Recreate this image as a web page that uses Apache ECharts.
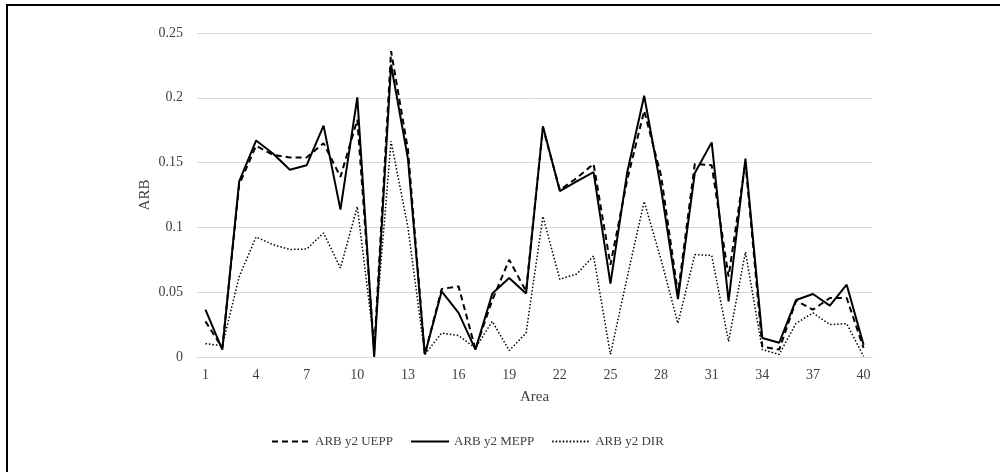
<!DOCTYPE html>
<html>
<head>
<meta charset="utf-8">
<script src="https://cdn.jsdelivr.net/npm/echarts@6/dist/echarts.min.js"></script>
<style>
html,body{margin:0;padding:0;background:#fff;}
#frame{position:absolute;left:6px;top:4px;width:994px;height:468px;border-top:2px solid #000;border-left:2px solid #000;box-sizing:border-box;}
#chart{position:absolute;left:0;top:0;width:1000px;height:472px;}
</style>
</head>
<body>
<div id="frame"></div>
<div id="chart"></div>
<script>
const areas = Array.from({length: 40}, (_, i) => String(i + 1));
const seriesNames = ['ARB y2 UEPP', 'ARB y2 MEPP', 'ARB y2 DIR'];
const uepp = [0.0275,0.007,0.133,0.163,0.156,0.154,0.154,0.165,0.139,0.183,
              0.005,0.236,0.16,0.002,0.0525,0.0545,0.006,0.044,0.075,0.0507,
              0.1767,0.129,0.138,0.149,0.0712,0.137,0.19,0.14,0.049,0.149,
              0.148,0.062,0.15,0.008,0.0057,0.0435,0.0365,0.0455,0.0455,0.007];
const mepp = [0.0365,0.0057,0.1355,0.167,0.157,0.1445,0.148,0.1785,0.1137,0.2003,
              0.0,0.2255,0.153,0.002,0.0507,0.034,0.0057,0.049,0.061,0.049,
              0.178,0.128,0.1355,0.1427,0.0566,0.143,0.2016,0.13,0.0447,0.142,
              0.1656,0.043,0.153,0.0147,0.011,0.044,0.0486,0.0396,0.0558,0.0095];
const dir  = [0.0103,0.0087,0.062,0.0926,0.0867,0.083,0.0833,0.0957,0.0687,0.116,
              0.01,0.1664,0.1,0.002,0.0185,0.0165,0.007,0.0275,0.005,0.0185,
              0.1085,0.06,0.064,0.078,0.002,0.062,0.12,0.075,0.026,0.079,
              0.0784,0.012,0.081,0.0057,0.002,0.026,0.034,0.025,0.0257,0.0005];

const font = '"Liberation Serif", "Times New Roman", serif';
const chart = echarts.init(document.getElementById('chart'), null, {renderer: 'canvas'});
chart.setOption({
  animation: false,
  backgroundColor: 'transparent',
  textStyle: {fontFamily: font},
  grid: {left: 197, right: 128, top: 33, bottom: 115, containLabel: false},
  legend: {
    left: 266, top: 430,
    itemWidth: 38, itemHeight: 12, itemGap: 17,
    itemStyle: {opacity: 0, borderWidth: 0},
    textStyle: {fontFamily: font, fontSize: 13, color: '#404040'},
    data: seriesNames
  },
  xAxis: {
    type: 'category', data: areas, boundaryGap: true,
    name: 'Area', nameLocation: 'middle', nameGap: 33,
    nameTextStyle: {fontFamily: font, fontSize: 15, color: '#404040'},
    axisLine: {show: true, lineStyle: {color: '#d9d9d9', width: 1}},
    axisTick: {show: false},
    axisLabel: {interval: 2, fontFamily: font, fontSize: 14, color: '#404040', margin: 11}
  },
  yAxis: {
    type: 'value', min: 0, max: 0.25, interval: 0.05,
    name: 'ARB', nameLocation: 'middle', nameGap: 44, nameRotate: 90,
    nameMoveOverlap: false,
    nameTextStyle: {fontFamily: font, fontSize: 15, color: '#404040'},
    axisLine: {show: false}, axisTick: {show: false},
    axisLabel: {fontFamily: font, fontSize: 14, color: '#404040', margin: 14,
      formatter: v => String(Math.round(v * 100) / 100)},
    splitLine: {lineStyle: {color: '#d9d9d9', width: 1}}
  },
  series: [
    {name: seriesNames[0], type: 'line', data: uepp, symbol: 'none',
     lineStyle: {color: '#000', width: 2, type: [6, 4]}, itemStyle: {color: '#000'}},
    {name: seriesNames[1], type: 'line', data: mepp, symbol: 'none',
     lineStyle: {color: '#000', width: 2, type: 'solid'}, itemStyle: {color: '#000'}},
    {name: seriesNames[2], type: 'line', data: dir, symbol: 'none',
     lineStyle: {color: '#000', width: 1.5, type: [1.5, 2]}, itemStyle: {color: '#000'}}
  ]
});
</script>
</body>
</html>
